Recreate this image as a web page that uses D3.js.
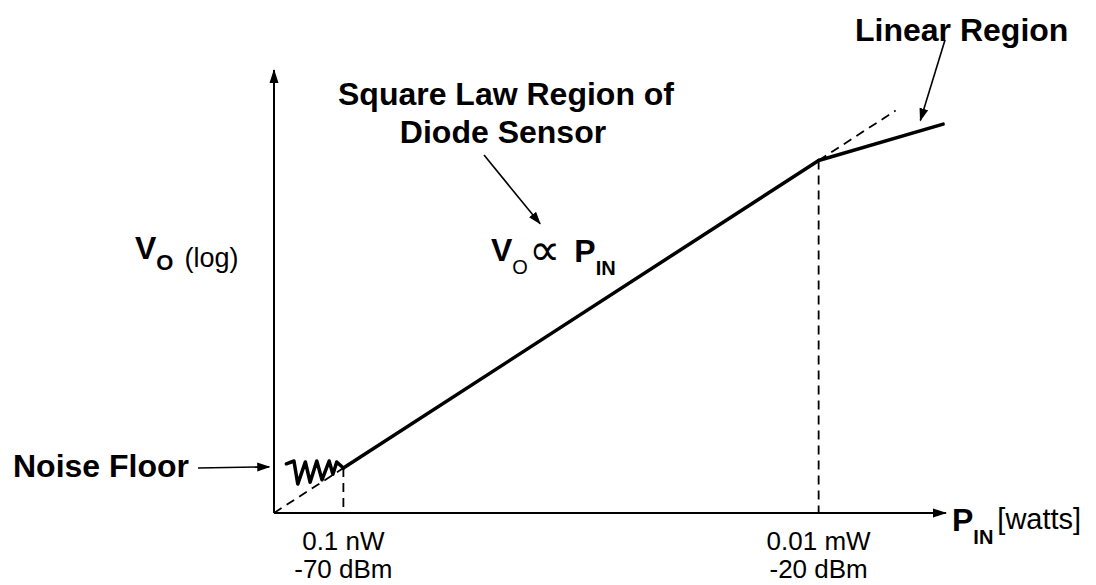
<!DOCTYPE html>
<html>
<head>
<meta charset="utf-8">
<script src="https://cdn.jsdelivr.net/npm/d3@7"></script>
<style>
  body { margin: 0; background: #fff; }
  text { font-family: "Liberation Sans", Arial, Helvetica, sans-serif; fill: #000; }
  tspan.sym { font-family: "DejaVu Sans", sans-serif; }
</style>
</head>
<body>
<svg id="chart" width="1096" height="585"></svg>
<script>
// Input power in dBm, output level as a log quantity (dB, arbitrary reference)
const squareLawPower = [-70, -20];
const squareLawLevel = [-70, -20];
const linearPower = [-20, -6.9];
const linearLevel = [-20, -14.1];
// dashed continuation of the square-law slope, above and below
const extensionPower = [-20, -11.9];
const extensionLevel = [-20, -11.9];
const floorPower = [-77.3, -70];
const floorLevel = [-77.3, -70];
// noise floor jitter
const noisePower = [-76.0, -75.2, -74.8, -74.0, -73.5, -72.8, -72.25, -71.5, -71.1, -70.7, -70];
const noiseLevel = [-69.3, -68.85, -72.6, -69.0, -72.3, -68.85, -71.9, -68.85, -71.0, -69.0, -70];
// marked input powers
const markerPower = [-70, -20];
const markerWatts = ["0.1 nW", "0.01 mW"];
const markerDbm = ["-70 dBm", "-20 dBm"];

const svg = d3.select("#chart");
const x = d3.scaleLinear().domain([-77.3, -6.6]).range([274, 946]);
const y = d3.scaleLinear().domain([-77.3, -5.3]).range([513, 70]);

const zip = (a, b) => a.map((v, i) => [v, b[i]]);
const line = d3.line().x(d => x(d[0])).y(d => y(d[1]));

const defs = svg.append("defs");
defs.append("marker").attr("id", "axisHead")
  .attr("markerUnits", "userSpaceOnUse")
  .attr("markerWidth", 14).attr("markerHeight", 10)
  .attr("refX", 13).attr("refY", 5).attr("orient", "auto")
  .append("path").attr("d", "M0,0.5 L14,5 L0,9.5 Z").attr("fill", "#000");
defs.append("marker").attr("id", "noteHead")
  .attr("markerUnits", "userSpaceOnUse")
  .attr("markerWidth", 13).attr("markerHeight", 10)
  .attr("refX", 12).attr("refY", 5).attr("orient", "auto")
  .append("path").attr("d", "M0,0.5 L13,5 L0,9.5 Z").attr("fill", "#000");

const [x0, x1] = x.domain();
const [y0, y1] = y.domain();

// axes
svg.append("line")
  .attr("x1", x(x0)).attr("y1", y(y0)).attr("x2", x(x1)).attr("y2", y(y0))
  .attr("stroke", "#000").attr("stroke-width", 2).attr("marker-end", "url(#axisHead)");
svg.append("line")
  .attr("x1", x(x0)).attr("y1", y(y0)).attr("x2", x(x0)).attr("y2", y(y1))
  .attr("stroke", "#000").attr("stroke-width", 2).attr("marker-end", "url(#axisHead)");

// dashed guides
const dashed = { stroke: "#000", "stroke-width": 1.8, "stroke-dasharray": "9,6", fill: "none" };
function applyAttrs(sel, attrs) { Object.entries(attrs).forEach(([k, v]) => sel.attr(k, v)); return sel; }

applyAttrs(svg.append("path").attr("d", line(zip(floorPower, floorLevel))), dashed);
applyAttrs(svg.append("path").attr("d", line(zip(extensionPower, extensionLevel))), dashed);
markerPower.forEach(p => {
  applyAttrs(svg.append("line")
    .attr("x1", x(p)).attr("x2", x(p))
    .attr("y1", y(p)).attr("y2", y(y0)), dashed);
});

// response curve
const solid = { stroke: "#000", "stroke-width": 3.5, fill: "none", "stroke-linejoin": "round", "stroke-linecap": "round" };
applyAttrs(svg.append("path").attr("d", line(zip(noisePower, noiseLevel))), solid);
applyAttrs(svg.append("path").attr("d", line(zip(squareLawPower, squareLawLevel))), solid);
applyAttrs(svg.append("path").attr("d", line(zip(linearPower, linearLevel))), solid);

// marker labels under the x axis
markerPower.forEach((p, i) => {
  svg.append("text").attr("x", x(p)).attr("y", 550).attr("text-anchor", "middle")
    .attr("font-size", 26).text(markerWatts[i]);
  svg.append("text").attr("x", x(p)).attr("y", 578).attr("text-anchor", "middle")
    .attr("font-size", 26).text(markerDbm[i]);
});

// axis titles
const xTitle = svg.append("text").attr("x", 952).attr("y", 531);
xTitle.append("tspan").attr("font-size", 32).attr("font-weight", "bold").text("P");
xTitle.append("tspan").attr("font-size", 20).attr("font-weight", "bold").attr("dy", 13).text("IN");
xTitle.append("tspan").attr("font-size", 29).attr("dy", -15).attr("dx", 4).text("[watts]");

const yTitle = svg.append("text").attr("x", 135).attr("y", 259);
yTitle.append("tspan").attr("font-size", 32).attr("font-weight", "bold").text("V");
yTitle.append("tspan").attr("font-size", 22).attr("font-weight", "bold").attr("dy", 11).text("O");
yTitle.append("tspan").attr("font-size", 27).attr("dy", -3).attr("dx", 11).text("(log)");

// square-law relation
const rel = svg.append("text").attr("x", 491).attr("y", 261);
rel.append("tspan").attr("font-size", 32).attr("font-weight", "bold").text("V");
rel.append("tspan").attr("font-size", 20).attr("dy", 13).text("O");
rel.append("tspan").attr("class", "sym").attr("font-size", 44).attr("dy", -9).attr("dx", 1).text("\u221D");
rel.append("tspan").attr("font-size", 32).attr("font-weight", "bold").attr("dy", -3).attr("dx", 14).text("P");
rel.append("tspan").attr("font-size", 20).attr("font-weight", "bold").attr("dy", 13).text("IN");

// annotations
const bold = (tx, ty, str, anchor) => svg.append("text").attr("x", tx).attr("y", ty)
  .attr("font-size", 32).attr("font-weight", "bold").attr("text-anchor", anchor || "start").text(str);

bold(506, 105, "Square Law Region of", "middle");
bold(503, 143, "Diode Sensor", "middle");
bold(855, 41, "Linear Region");
bold(13, 477, "Noise Floor");

const note = (ax, ay, p, l) => svg.append("line")
  .attr("x1", ax).attr("y1", ay).attr("x2", x(p)).attr("y2", y(l))
  .attr("stroke", "#000").attr("stroke-width", 1.6).attr("marker-end", "url(#noteHead)");

note(484, 155, -49.3, -30.3);   // toward the square-law slope
note(945, 40, -9.3, -13.5);     // toward the linear segment
note(198, 468, x0 - 0.5, -69.8); // toward the noise floor at the axis
</script>
</body>
</html>
